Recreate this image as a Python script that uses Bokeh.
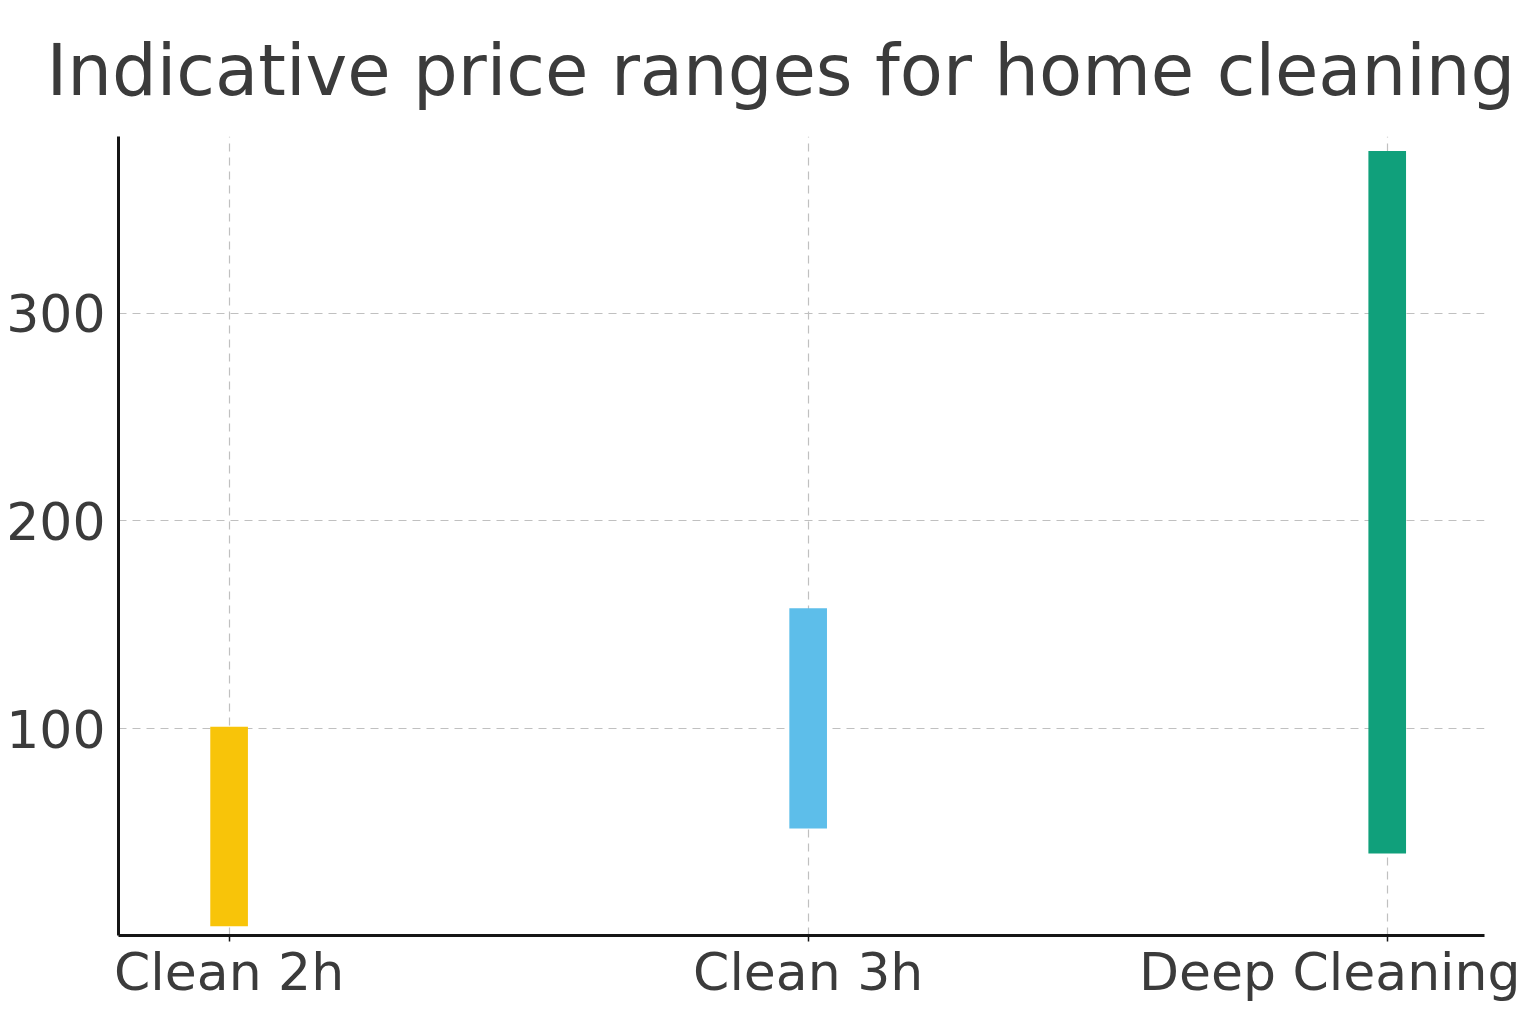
from bokeh.plotting import figure
from bokeh.models import Range1d, FixedTicker, ColumnDataSource
from bokeh.embed import file_html
from bokeh.resources import INLINE

services = ["Clean 2h", "Clean 3h", "Deep Cleaning"]
price_low = [5, 52, 40]
price_high = [101, 158, 378]
colors = ["#F8C409", "#5DBEEA", "#10A07B"]
y_ticks = [100, 200, 300]

xs = list(range(len(services)))
source = ColumnDataSource(data=dict(x=xs, low=price_low, high=price_high, color=colors))

FONT = "DejaVu Sans"
TEXT = "#3b3b3b"

p = figure(width=1520, height=1008,
           x_range=Range1d(-0.191, 2.168),
           y_range=Range1d(0.5, 385),
           output_backend="svg", toolbar_location=None,
           min_border_left=118, min_border_right=36,
           min_border_top=136, min_border_bottom=73)

p.title.text = "Indicative price ranges for home cleaning"
p.title.text_font = FONT
p.title.text_font_size = "70.5px"
p.title.text_font_style = "normal"
p.title.text_color = TEXT
p.title.align = "left"
p.title.offset = -72
p.title.standoff = 50

p.vbar(x="x", bottom="low", top="high", width=0.065, fill_color="color",
       line_color=None, source=source)

p.outline_line_color = None
p.background_fill_color = "white"
p.border_fill_color = "white"

p.xaxis.ticker = FixedTicker(ticks=xs)
p.xaxis.major_label_overrides = {i: s for i, s in enumerate(services)}
p.yaxis.ticker = FixedTicker(ticks=y_ticks)

for ax in (p.xaxis[0], p.yaxis[0]):
    ax.axis_line_color = "#151515"
    ax.axis_line_width = 3
    ax.major_tick_line_color = "#151515"
    ax.major_tick_line_width = 1.5
    ax.minor_tick_line_color = None
    ax.major_label_text_font = FONT
    ax.major_label_text_font_size = "52px"
    ax.major_label_text_color = TEXT
    ax.major_tick_in = 0

p.xaxis.major_tick_out = 6
p.xaxis.major_label_standoff = 0
p.yaxis.major_tick_out = 0
p.yaxis.major_label_standoff = 13

p.xgrid.ticker = FixedTicker(ticks=xs)
p.ygrid.ticker = FixedTicker(ticks=y_ticks)
for g in (p.xgrid[0], p.ygrid[0]):
    g.grid_line_color = "#c0c0c0"
    g.grid_line_dash = "8 6"
    g.grid_line_width = 1.2

open("out.html", "w").write(file_html(p, INLINE))
